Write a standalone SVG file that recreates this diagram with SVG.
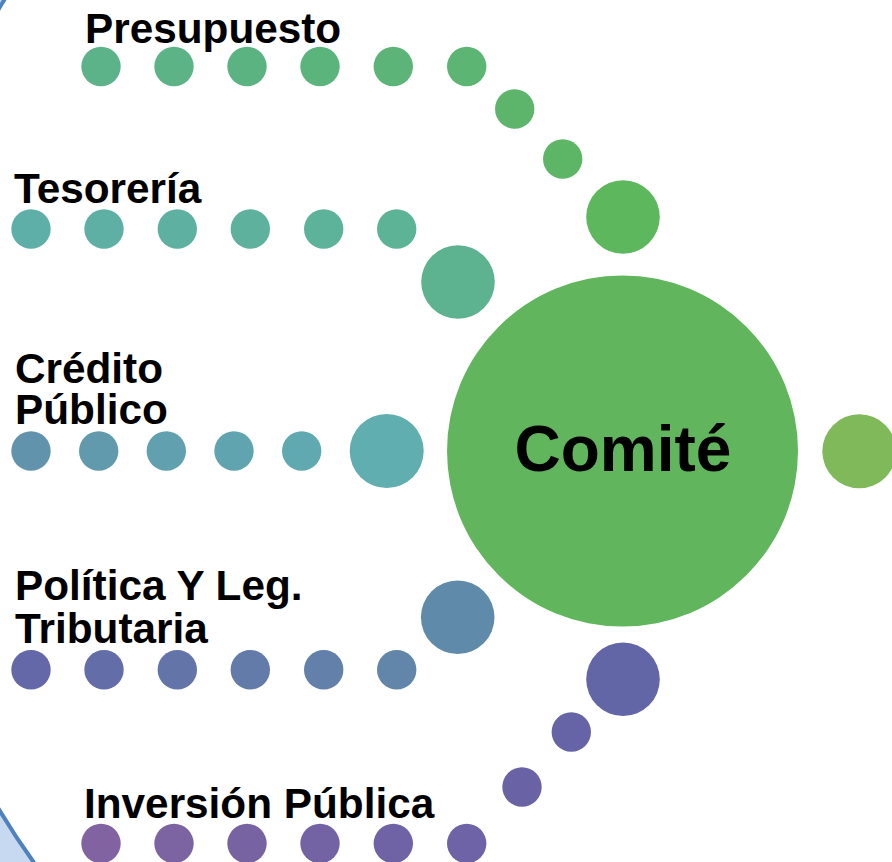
<svg xmlns="http://www.w3.org/2000/svg" width="892" height="862" viewBox="0 0 892 862">
<style>
.lbl{font-family:"Liberation Sans",Arial,sans-serif;font-weight:bold;font-size:42.3px;fill:#000}
.hub{font-family:"Liberation Sans",Arial,sans-serif;font-weight:bold;font-size:64px;fill:#000}
</style>
<rect x="0" y="0" width="892" height="862" fill="#c6d9f1"/>
<circle cx="665" cy="409" r="777" fill="#ffffff" stroke="#4f81bd" stroke-width="4"/>
<g id="connectors">
  <g id="dots-presupuesto">
    <circle cx="101" cy="66.5" r="19.7" fill="#5cb38a"/>
    <circle cx="174" cy="66.5" r="19.7" fill="#5cb386"/>
    <circle cx="247" cy="66.5" r="19.7" fill="#5cb382"/>
    <circle cx="320" cy="66.5" r="19.7" fill="#5cb47d"/>
    <circle cx="393.3" cy="66.5" r="19.7" fill="#5cb478"/>
    <circle cx="466.7" cy="66.5" r="19.7" fill="#5db573"/>
    <circle cx="514.7" cy="109" r="19.7" fill="#5db56c"/>
    <circle cx="562.7" cy="159" r="19.7" fill="#5db666"/>
  </g>
  <g id="dots-tesoreria">
    <circle cx="31" cy="229" r="19.7" fill="#5eafa8"/>
    <circle cx="104" cy="229" r="19.7" fill="#5eb0a5"/>
    <circle cx="177.3" cy="229" r="19.7" fill="#5eb0a1"/>
    <circle cx="250.3" cy="229" r="19.7" fill="#5db19d"/>
    <circle cx="323.7" cy="229" r="19.7" fill="#5db29a"/>
    <circle cx="396.7" cy="229" r="19.7" fill="#5db396"/>
  </g>
  <g id="dots-credito">
    <circle cx="31" cy="451" r="19.7" fill="#6194ac"/>
    <circle cx="98.7" cy="451" r="19.7" fill="#619aad"/>
    <circle cx="166.3" cy="451" r="19.7" fill="#61a0ae"/>
    <circle cx="234" cy="451" r="19.7" fill="#60a4af"/>
    <circle cx="301.7" cy="451" r="19.7" fill="#60a9b0"/>
  </g>
  <g id="dots-politica">
    <circle cx="31" cy="669.7" r="19.7" fill="#6468a8"/>
    <circle cx="104" cy="669.7" r="19.7" fill="#636ea8"/>
    <circle cx="177.3" cy="669.7" r="19.7" fill="#6375a8"/>
    <circle cx="250.3" cy="669.7" r="19.7" fill="#627ba9"/>
    <circle cx="323.7" cy="669.7" r="19.7" fill="#6280a9"/>
    <circle cx="396.7" cy="669.7" r="19.7" fill="#6186a9"/>
  </g>
  <g id="dots-inversion">
    <circle cx="101" cy="843.5" r="19.7" fill="#8063a0"/>
    <circle cx="174" cy="843.5" r="19.7" fill="#7c63a1"/>
    <circle cx="247" cy="843.5" r="19.7" fill="#7863a2"/>
    <circle cx="320" cy="843.5" r="19.7" fill="#7463a4"/>
    <circle cx="393.3" cy="843.5" r="19.7" fill="#7063a5"/>
    <circle cx="466.7" cy="843.5" r="19.7" fill="#6d63a6"/>
    <circle cx="522" cy="787" r="19.7" fill="#6963a6"/>
    <circle cx="571.3" cy="732" r="19.7" fill="#6664a6"/>
  </g>
</g>
<g id="node-presupuesto">
  <circle cx="623" cy="217" r="36.8" fill="#5db75d"/>
  <text class="lbl" x="85" y="42.5">Presupuesto</text>
</g>
<g id="node-tesoreria">
  <circle cx="458" cy="282" r="36.8" fill="#5db290"/>
  <text class="lbl" x="14" y="202.5">Tesorería</text>
</g>
<g id="node-credito">
  <circle cx="386.7" cy="451" r="37" fill="#60aeb0"/>
  <text class="lbl" x="15" y="382.5">Crédito</text>
  <text class="lbl" x="15" y="423.5">Público</text>
</g>
<g id="node-politica">
  <circle cx="457.7" cy="617.3" r="36.8" fill="#608aaa"/>
  <text class="lbl" x="15" y="600">Política Y Leg.</text>
  <text class="lbl" x="15" y="642.5">Tributaria</text>
</g>
<g id="node-inversion">
  <circle cx="623" cy="679.3" r="36.8" fill="#6366a6"/>
  <text class="lbl" x="84" y="817.5">Inversión Pública</text>
</g>
<g id="node-comite">
  <circle cx="622.5" cy="451" r="175.5" fill="#61b65d"/>
  <text class="hub" x="623" y="471" text-anchor="middle">Comité</text>
</g>
<g id="node-right">
  <circle cx="859.3" cy="451.3" r="37" fill="#80b95a"/>
</g>
</svg>
